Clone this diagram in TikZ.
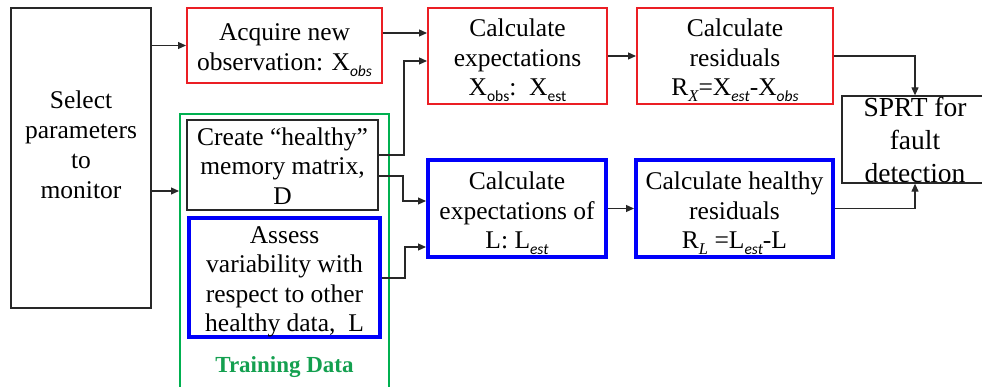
\documentclass[tikz,border=0pt]{standalone}
\usepackage{fontspec}
\setmainfont{Liberation Serif}
\newfontfamily\tnr{Liberation Serif}
\newfontfamily\subfont{Carlito}
\usetikzlibrary{arrows.meta}
\definecolor{boxred}{RGB}{235,30,36}
\definecolor{boxblue}{RGB}{0,0,250}
\definecolor{boxgreen}{RGB}{0,176,80}
\definecolor{txtgreen}{RGB}{20,160,80}
\definecolor{linegray}{RGB}{40,40,40}
\newcommand{\mysub}[1]{\raisebox{-0.24em}{\fontsize{15.5}{15.5}\selectfont\subfont #1}}
\newcommand{\myisub}[1]{\raisebox{-0.24em}{\fontsize{15.5}{15.5}\selectfont\subfont\itshape #1}}
\newcommand{\myssub}[1]{\raisebox{-0.24em}{\fontsize{16.5}{16.5}\selectfont\tnr\itshape #1}}
\begin{document}
\begin{tikzpicture}[x=1pt,y=-1pt,
  box/.style={draw, rectangle, inner sep=0pt},
  plain/.style={box, draw=linegray, line width=1.3pt},
  redbox/.style={box, draw=boxred, line width=2pt},
  bluebox/.style={box, draw=boxblue, line width=4pt},
  greenbox/.style={draw=boxgreen, line width=2pt, rectangle, inner sep=0pt},
  txt/.style={align=center, inner sep=0pt, text=black, font=\tnr\fontsize{25.5}{29.5}\selectfont},
  arr/.style={draw=linegray, line width=1.2pt, -{Triangle[length=8pt,width=7pt]}},
]
\useasboundingbox (0,0) rectangle (982,387);
\clip (0,0) rectangle (982,387);
\fill[white] (0,0) rectangle (982,387);

% left box
\node[plain, line width=1.1pt, minimum width=140pt, minimum height=300pt] (select) at (81,158) {};
\node[txt, font=\tnr\fontsize{25.5}{30}\selectfont] (selecttxt) at (81,145) {Select\\parameters\\to\\monitor};

% training data container
\node[greenbox, minimum width=209pt, minimum height=282pt] (train) at (284.5,255) {};
\node[font=\tnr\fontsize{23}{26}\selectfont\bfseries, text=txtgreen, inner sep=0pt] (traintxt) at (284.5,367) {Training Data};

\node[plain, minimum width=191pt, minimum height=90pt] (create) at (282.5,165) {};
\node[txt] (createtxt) at ([yshift=-1pt]create.center) {Create “healthy”\\memory matrix,\\D};
\node[bluebox, minimum width=191pt, minimum height=119pt] (assess) at (284.5,277.5) {};
\node[txt] (assesstxt) at ([yshift=-4.5pt]assess.center) {Assess\\variability with\\respect to other\\healthy data,\enspace L};

% red row
\node[redbox, minimum width=195pt, minimum height=75pt] (acquire) at (284.5,45.5) {};
\node[txt] (acquiretxt) at ([yshift=-4.5pt]acquire.center) {Acquire new\\observation: X\myisub{obs}};
\node[redbox, minimum width=179pt, minimum height=96pt] (calcx) at (517.5,56) {};
\node[txt] (calcxtxt) at ([yshift=-4.5pt]calcx.center) {Calculate\\expectations\\X\mysub{obs}:\enspace X\mysub{est}};
\node[redbox, minimum width=196pt, minimum height=96pt] (resx) at (735,56) {};
\node[txt] (resxtxt) at ([yshift=-4.5pt]resx.center) {Calculate\\residuals\\R\myssub{X}=X\myisub{est}-X\myisub{obs}};

% blue row
\node[bluebox, minimum width=178pt, minimum height=97pt] (calcl) at (517,208.5) {};
\node[txt] (calcltxt) at ([yshift=-5pt]calcl.center) {Calculate\\expectations of\\L: L\myisub{est}};
\node[bluebox, minimum width=197pt, minimum height=97pt] (resl) at (734.5,208.5) {};
\node[txt] (resltxt) at ([yshift=-5pt]resl.center) {Calculate healthy\\residuals\\R\myssub{L} =L\myisub{est}-L};

% SPRT
\node[plain, minimum width=146pt, minimum height=87pt] (sprt) at (915,139.5) {};
\node[txt, font=\tnr\fontsize{27.5}{33}\selectfont] (sprttxt) at (sprt.center) {SPRT for\\fault\\detection};

% connectors
\coordinate (jG) at (160,191);
\coordinate (jH) at (400,33);
\coordinate (jA) at (404,155);
\coordinate (jB) at (404,61);
\coordinate (jC) at (403,176);
\coordinate (jD) at (403,201);
\coordinate (jE) at (405,278);
\coordinate (jF) at (405,247);

\draw[arr] (select.east |- acquire.west) -- (acquire.west);
\draw[arr] (select.east |- jG) -- (train.west |- jG);
\draw[arr] (acquire.east |- jH) -- (calcx.west |- jH);
\draw[arr] (create.east |- jA) -- (jA) -- (jB) -- (calcx.west |- jB);
\draw[arr] (create.east |- jC) -- (jC) -- (jD) -- (calcl.west |- jD);
\draw[arr] (assess.east |- jE) -- (jE) -- (jF) -- (calcl.west |- jF);
\draw[arr] (calcx.east) -- (resx.west);
\draw[arr] (calcl.east) -- (resl.west);
\draw[arr] (resx.east) -| (sprt.north);
\draw[arr] (resl.east) -| (sprt.south);
\end{tikzpicture}
\end{document}
